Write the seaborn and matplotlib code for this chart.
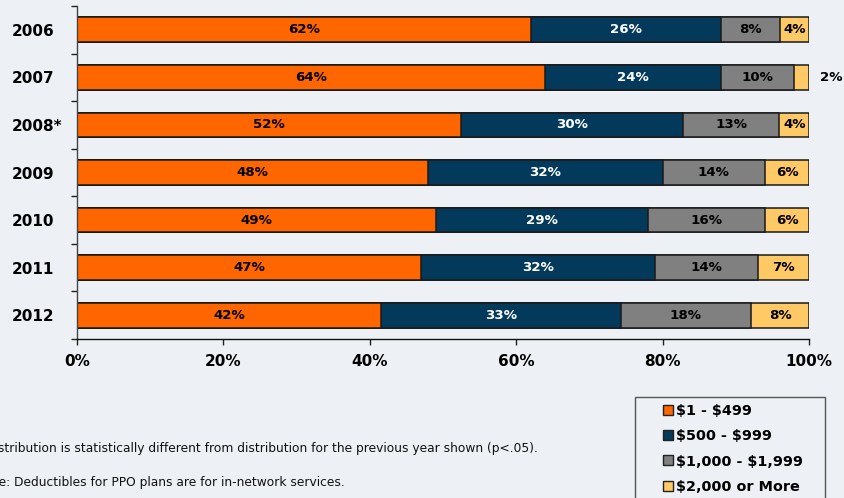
import numpy as np
import pandas as pd
import matplotlib
matplotlib.use("Agg")
import matplotlib.pyplot as plt
import seaborn as sns
from matplotlib.patches import Rectangle
from matplotlib.lines import Line2D

# Deductible distribution for PPO plans, by survey year (percent of workers)
years = ["2006", "2007", "2008*", "2009", "2010", "2011", "2012"]
tiers = ["$1 - $499", "$500 - $999", "$1,000 - $1,999", "$2,000 or More"]
tier_low = [62, 64, 52, 48, 49, 47, 42]
tier_mid = [26, 24, 30, 32, 29, 32, 33]
tier_high = [8, 10, 13, 14, 16, 14, 18]
tier_top = [4, 2, 4, 6, 6, 7, 8]
x_ticks = [0, 20, 40, 60, 80, 100]

colors = ["#FF6600", "#03395A", "#808080", "#FFC966"]
text_colors = ["black", "white", "black", "black"]
BG = "#EDF1F5"

sns.set_theme(style="white")
plt.rcParams["font.family"] = ["DejaVu Sans"]
plt.rcParams["text.parse_math"] = False
plt.rcParams["text.color"] = "black"
plt.rcParams["xtick.labelcolor"] = "black"
plt.rcParams["ytick.labelcolor"] = "black"

df = pd.DataFrame({tiers[0]: tier_low, tiers[1]: tier_mid,
                   tiers[2]: tier_high, tiers[3]: tier_top}, index=years)
# 100% stacked: each year's shares are scaled to sum to 100
share = df.div(df.sum(axis=1), axis=0) * 100
cum = share.cumsum(axis=1)
plot_df = cum.reset_index().rename(columns={"index": "year"})

fig = plt.figure(figsize=(8.44, 4.98), dpi=100, facecolor=BG)
ax = fig.add_axes([77 / 844, 1 - 339 / 498, 732 / 844, 333 / 498])
ax.set_facecolor(BG)

# draw cumulative totals from the widest down so segments stack visually
for tier, col in reversed(list(zip(tiers, colors))):
    sns.barplot(data=plot_df, x=tier, y="year", orient="h", color=col,
                saturation=1, width=0.52, edgecolor="#1a1a1a", linewidth=1.1,
                errorbar=None, ax=ax)

for i, year in enumerate(years):
    for j, tier in enumerate(tiers):
        val = df.loc[year, tier]
        s = share.loc[year, tier]
        end = cum.loc[year, tier]
        if s < 3:
            ax.annotate(f"{val}%", xy=(end, i), xytext=(16, 0),
                        textcoords="offset points", ha="center", va="center",
                        fontsize=9.6, fontweight="bold", color="black",
                        annotation_clip=False)
        else:
            ax.text(end - s / 2, i, f"{val}%", ha="center", va="center",
                    fontsize=9.6, fontweight="bold", color=text_colors[j])

ax.set_xlim(0, 100)
ax.set_ylim(6.5, -0.5)
ax.set_xlabel("")
ax.set_ylabel("")
ax.set_xticks(x_ticks)
ax.set_xticklabels([f"{t}%" for t in x_ticks], fontsize=11, fontweight="bold")
ax.set_yticks(range(len(years)))
ax.set_yticklabels(years, fontsize=11, fontweight="bold")
ax.set_yticks(np.arange(-0.5, len(years), 1), minor=True)
for lbl in ax.get_yticklabels():
    lbl.set_ha("left")
ax.tick_params(axis="y", which="major", length=0, pad=46.8)
ax.tick_params(axis="y", which="minor", left=True, length=4, width=1,
               color="#222222", direction="out")
ax.tick_params(axis="x", which="major", bottom=True, length=4, width=1,
               color="#222222", direction="out", pad=7)
for side in ["top", "right"]:
    ax.spines[side].set_visible(False)
ax.spines["left"].set_color("#444444")
ax.spines["bottom"].set_color("#111111")
ax.spines["left"].set_linewidth(1)
ax.spines["bottom"].set_linewidth(1)
ax.grid(False)

fig.text(538 / 844, 1 - 448 / 498,
         "* Distribution is statistically different from distribution for the previous year shown (p<.05).",
         ha="right", va="center", fontsize=8.8, color="#111111")
fig.text(345 / 844, 1 - 482 / 498,
         "Note: Deductibles for PPO plans are for in-network services.",
         ha="right", va="center", fontsize=8.8, color="#111111")

handles = [Line2D([], [], marker="s", linestyle="none", markersize=7.2,
                  markerfacecolor=c, markeredgecolor="#222222",
                  markeredgewidth=1) for c in colors]
fig.legend(handles, tiers, loc="upper left",
           bbox_to_anchor=(663 / 844, 1 - 404 / 498), frameon=False,
           prop=dict(weight="bold", size=10.4), handlelength=0.7,
           handletextpad=0.2, labelspacing=0.78, borderpad=0,
           borderaxespad=0)
fig.add_artist(Rectangle((635 / 844, -0.1), 190 / 844, (1 - 397 / 498) + 0.1,
                         transform=fig.transFigure, fill=False,
                         edgecolor="#555555", linewidth=1))

fig.savefig("out.png", dpi=100, facecolor=BG)
